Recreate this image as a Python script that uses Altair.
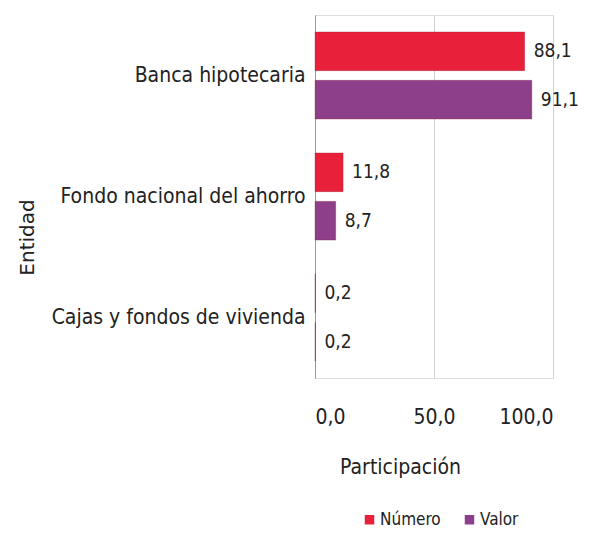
import altair as alt
import pandas as pd

entidades = ["Banca hipotecaria", "Fondo nacional del ahorro", "Cajas y fondos de vivienda"]
series = ["Número", "Valor"]
numero = [88.1, 11.8, 0.2]
valor = [91.1, 8.7, 0.2]
x_ticks = [0, 50, 100]

rows = []
for e, n, v in zip(entidades, numero, valor):
    rows.append({"Entidad": e, "Serie": "Número", "Participación": n})
    rows.append({"Entidad": e, "Serie": "Valor", "Participación": v})
df = pd.DataFrame(rows)

FONT = "DejaVu Sans Condensed"

y_enc = alt.Y("Entidad:N", sort=entidades,
              scale=alt.Scale(paddingInner=0, paddingOuter=0),
              axis=alt.Axis(title="Entidad", titleFont="DejaVu Sans", titleFontSize=20,
                            titleFontWeight="normal", titleColor="#222",
                            titleX=-288, titleY=222, titleAlign="center", titleBaseline="middle",
                            labelFont=FONT, labelFontSize=21, labelColor="#222",
                            labelPadding=10, ticks=False, domain=True, domainColor="#999",
                            labelLimit=400))
yoff = alt.YOffset("Serie:N", sort=series,
                   scale=alt.Scale(paddingInner=0.2, paddingOuter=0.35))
x_enc = alt.X("Participación:Q", scale=alt.Scale(domain=[0, 100]),
              axis=alt.Axis(values=x_ticks, title="Participación",
                            labelExpr="replace(format(datum.value, '.1f'), '.', ',')",
                            labelFont=FONT, labelFontSize=21, labelColor="#222",
                            labelPadding=28, ticks=False, domain=False,
                            grid=True, gridColor="#d0d0d0",
                            titleFont=FONT, titleFontSize=21, titleFontWeight="normal",
                            titleColor="#222", titleX=85, titleY=89,
                            titleAlign="center", titleBaseline="middle"))

color = alt.Color("Serie:N", sort=series,
                  scale=alt.Scale(domain=series, range=["#e8203a", "#8e3f8a"]),
                  legend=alt.Legend(title=None, orient="none", direction="horizontal",
                                    legendX=46, legendY=496, symbolType="square",
                                    symbolSize=90, labelFont=FONT, labelFontSize=17,
                                    labelColor="#222", columnPadding=20, labelOffset=2,
                                    symbolStrokeWidth=0))

base = alt.Chart(df).encode(y=y_enc, yOffset=yoff, x=x_enc)

bars = base.mark_bar(stroke="#8a1a3a", strokeWidth=0.6, strokeOpacity=0.5).encode(color=color)
labels = base.mark_text(align="left", baseline="middle", dx=9, font=FONT, fontSize=19,
                        color="#222").encode(
    text=alt.Text("lbl:N")
).transform_calculate(lbl="replace(format(datum['Participación'], '.1f'), '.', ',')")

chart = alt.layer(bars, labels).properties(
    width=238, height=363,
    padding={"left": 307, "top": 7, "right": 30, "bottom": 150},
    autosize="none",
).configure_view(stroke=None).configure(background="white")

chart.save("out.html", embed_options={"renderer": "svg", "actions": False})
